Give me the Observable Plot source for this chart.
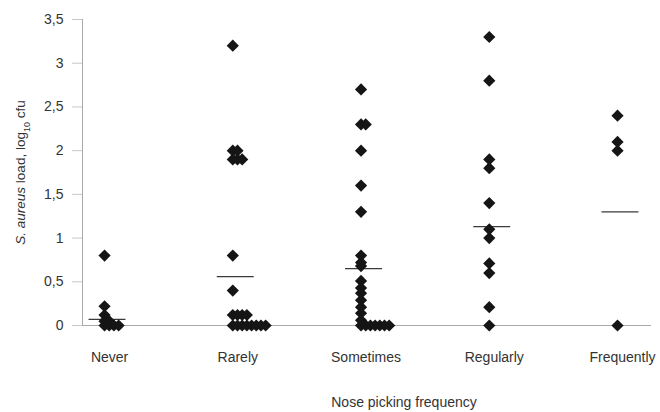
<!DOCTYPE html>
<html>
<head>
<meta charset="utf-8">
<script src="https://cdn.jsdelivr.net/npm/d3@7"></script>
<script src="https://cdn.jsdelivr.net/npm/@observablehq/plot@0.6"></script>
<style>
  html, body { margin: 0; padding: 0; background: #fff; }
  #chart svg { display: block; }
</style>
</head>
<body>
<div id="chart"></div>
<script>
// Categories (x axis)
const categories = ["Never", "Rarely", "Sometimes", "Regularly", "Frequently"];

const never      = [0.8, 0.22, 0.12, 0.05, 0.05, 0, 0, 0, 0];
const rarely     = [3.2, 2.0, 2.0, 1.9, 1.9, 1.9, 0.8, 0.4, 0.12, 0.12, 0.12, 0.12, 0, 0, 0, 0, 0, 0, 0, 0];
const sometimes  = [2.7, 2.3, 2.3, 2.0, 1.6, 1.3, 0.8, 0.72, 0.68, 0.51, 0.43, 0.37, 0.29, 0.21, 0.14, 0.06, 0, 0, 0, 0, 0, 0, 0];
const regularly  = [3.3, 2.8, 1.9, 1.8, 1.4, 1.1, 1.0, 0.71, 0.6, 0.21, 0];
const frequently = [2.4, 2.1, 2.0, 0];
const seriesValues = [never, rarely, sometimes, regularly, frequently];

// Mean line per category
const means = [0.07, 0.56, 0.65, 1.13, 1.30];

// Y tick values
const yTicks = [0, 0.5, 1, 1.5, 2, 2.5, 3, 3.5];

const yLabel = "S. aureus load, log10 cfu";
const xLabel = "Nose picking frequency";

// Build point table: identical values in a category are set side by side
const sideStep = 0.0366;
const points = [];
seriesValues.forEach((vals, i) => {
  const seen = new Map();
  vals.forEach(v => {
    const k = seen.get(v) || 0;
    seen.set(v, k + 1);
    points.push({cat: categories[i], x: i + 1 + k * sideStep, y: v});
  });
});
const meanRows = means.map((m, i) => ({x1: i + 1 - 0.121, x2: i + 1 + 0.167, y: m}));

const xDomain = [0.828, 5.265];

const chart = Plot.plot({
  width: 660,
  height: 412,
  marginLeft: 82,
  marginRight: 9,
  marginTop: 19,
  marginBottom: 87,
  style: {fontFamily: "'Liberation Sans', Arial, sans-serif", fontSize: "14px", background: "#fff"},
  x: {type: "linear", domain: xDomain},
  y: {domain: [0, 3.5]},
  marks: [
    Plot.axisY(yTicks, {
      tickSize: 10, tickPadding: 9, stroke: "#c8c8c8", fill: "#333",
      fontSize: 14,
      tickFormat: d => String(d).replace(".", ","),
      label: yLabel, labelAnchor: "center", labelOffset: 67, labelArrow: "none"
    }),
    Plot.axisX([1, 2, 3, 4, 5], {
      tickSize: 0, tickPadding: 27, fill: "#333", fontSize: 14, dx: 5,
      tickFormat: d => categories[d - 1], label: null
    }),
    Plot.ruleX([xDomain[0]], {stroke: "#aaa"}),
    Plot.ruleY([0], {stroke: "#aaa"}),
    Plot.ruleY(meanRows, {x1: "x1", x2: "x2", y: "y", stroke: "#3a3a3a", strokeWidth: 1.3}),
    Plot.dot(points, {x: "x", y: "y", symbol: "diamond2", r: 5.5, fill: "#151515", stroke: null}),
    Plot.text([xLabel], {frameAnchor: "bottom", dx: 37, dy: 81, fontSize: 14, fill: "#333"})
  ]
});

// Rich formatting of the y label: italic species name and subscript 10
d3.select(chart).selectAll("text").each(function() {
  if (this.textContent === yLabel) {
    const t = d3.select(this);
    t.text(null);
    t.attr("font-size", "13.5px");
    t.append("tspan").attr("font-style", "italic").text("S. aureus");
    t.append("tspan").text(" load, log");
    t.append("tspan").attr("baseline-shift", "sub").attr("font-size", "9px").text("10");
    t.append("tspan").text(" cfu");
  }
});

document.getElementById("chart").appendChild(chart);
</script>
</body>
</html>
